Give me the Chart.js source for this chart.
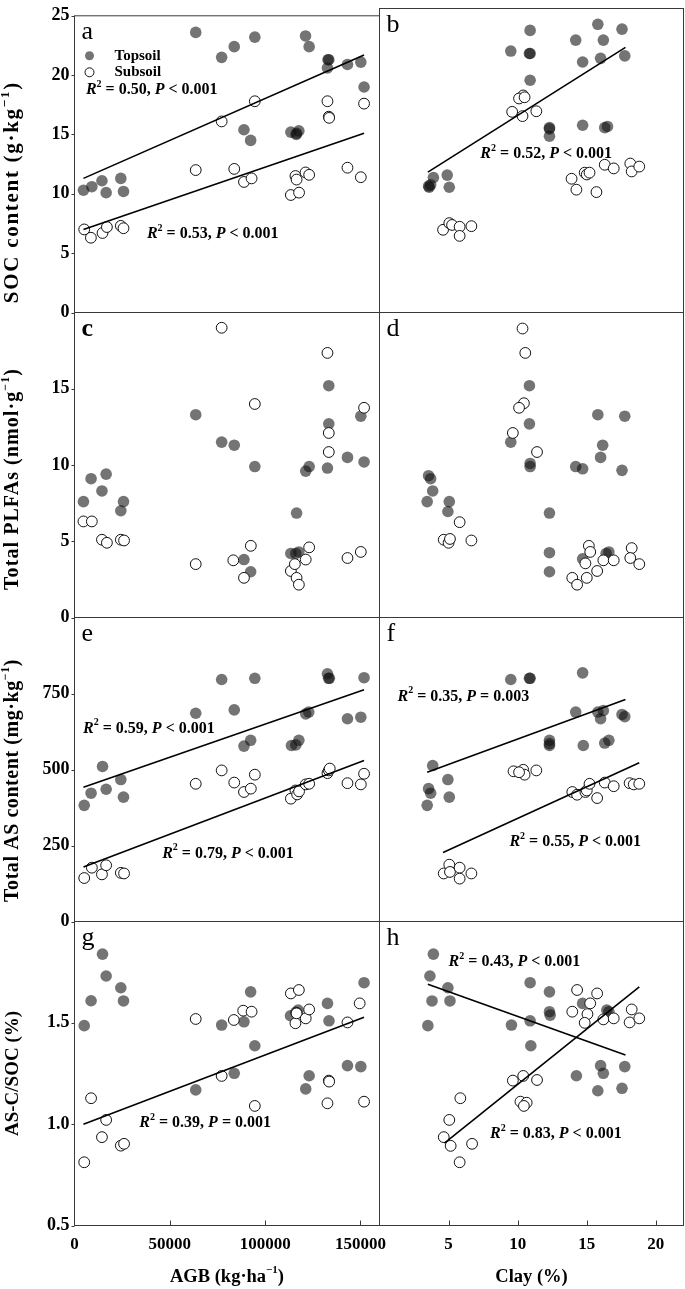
<!DOCTYPE html>
<html>
<head>
<meta charset="utf-8">
<script src="https://cdn.jsdelivr.net/npm/chart.js@4.4.1/dist/chart.umd.min.js"></script>
<style>
  html, body { margin: 0; padding: 0; background: #fff; }
  #wrap { position: relative; width: 685px; height: 1289px; }
  #wrap canvas { position: absolute; left: 0; top: 0; }
</style>
</head>
<body>
<div id="wrap"></div>
<script>
// ---- data: [x, y] pairs ----
// left column x = AGB (kg/ha), right column x = clay (%)
const aTop = [[4700,10.3],[9100,10.6],[14400,11.1],[16600,10.1],[24300,11.3],[25700,10.2],[63600,23.6],[77200,21.5],[83800,22.4],[94600,23.2],[121200,23.3],[123100,22.4],[88900,15.4],[92400,14.5],[113500,15.2],[116300,15.0],[116500,15.1],[117700,15.3],[132700,20.6],[133000,21.3],[133400,21.3],[143200,20.9],[150200,21.1],[151900,19.0]];
const aSub = [[5100,7.0],[8600,6.3],[14700,6.7],[17000,7.2],[24300,7.3],[25700,7.1],[63600,12.0],[77200,16.1],[83800,12.1],[88900,11.0],[92900,11.3],[94600,17.8],[113500,9.9],[115900,11.5],[116500,11.2],[117800,10.1],[121200,11.8],[123100,11.6],[132700,17.8],[133400,16.5],[133600,16.4],[143200,12.2],[150200,11.4],[151900,17.6]];
const aTopFit = [[4700,11.3],[151900,21.7]];
const aSubFit = [[4700,7.0],[151900,15.1]];

const bTop = [[10.9,23.2],[9.5,21.5],[10.85,21.3],[10.9,21.3],[10.9,19.1],[15.8,23.7],[17.55,23.3],[14.2,22.4],[16.2,22.4],[14.7,20.6],[16.0,20.9],[17.75,21.1],[12.3,15.2],[12.3,15.1],[12.3,14.5],[14.7,15.4],[16.3,15.2],[16.5,15.3],[3.9,11.1],[4.9,11.3],[3.55,10.4],[3.7,10.5],[3.6,10.3],[5.05,10.3]];
const bSub = [[10.4,17.85],[10.1,17.6],[10.5,17.7],[9.6,16.5],[10.35,16.15],[11.35,16.55],[13.9,11.0],[14.25,10.1],[14.85,11.5],[15.0,11.35],[15.2,11.5],[15.7,9.9],[16.3,12.15],[16.95,11.85],[18.15,12.25],[18.25,11.6],[18.8,12.0],[4.6,6.8],[5.05,7.35],[5.25,7.2],[5.8,7.05],[5.8,6.3],[6.65,7.1]];
const bTopFit = [[3.5,11.55],[17.8,21.8]];

const cTop = [[4700,7.6],[8700,9.1],[14400,8.3],[16600,9.4],[24300,7.0],[25700,7.6],[63600,13.3],[77200,11.5],[83800,11.3],[94600,9.9],[88900,3.8],[92400,3.0],[113500,4.2],[116100,4.2],[117700,4.3],[116500,6.85],[121300,9.6],[123100,9.9],[132700,9.8],[133400,15.2],[133400,12.7],[143200,10.5],[150200,13.2],[151900,10.2]];
const cSub = [[4700,6.3],[9100,6.3],[14400,5.1],[17000,4.9],[24300,5.1],[26000,5.05],[63600,3.5],[77200,19.0],[83300,3.75],[88900,2.6],[92500,4.7],[94600,14.0],[113500,3.05],[115600,3.5],[116500,2.6],[117700,2.15],[121300,3.8],[123100,4.6],[132700,17.35],[133400,12.1],[133400,10.85],[143200,3.9],[150200,4.3],[151900,13.75]];

const dTop = [[10.85,15.2],[10.85,12.7],[9.5,11.5],[10.9,10.1],[10.9,9.9],[15.8,13.3],[17.75,13.2],[16.15,11.3],[16.0,10.5],[14.2,9.9],[14.7,9.75],[17.55,9.65],[3.55,9.3],[3.7,9.1],[3.85,8.3],[3.45,7.6],[5.05,7.6],[4.95,6.95],[12.3,6.85],[12.3,4.25],[12.3,3.0],[14.7,3.85],[16.4,4.2],[16.6,4.3]];
const dSub = [[10.35,18.95],[10.55,17.35],[10.45,14.05],[10.1,13.75],[9.65,12.1],[11.4,10.85],[5.8,6.25],[4.65,5.1],[5.0,4.9],[5.1,5.15],[6.65,5.05],[15.15,4.7],[15.25,4.3],[14.9,3.55],[16.2,3.75],[16.95,3.75],[15.75,3.05],[15.0,2.6],[13.95,2.6],[14.3,2.15],[18.25,4.55],[18.15,3.9],[18.8,3.5]];

const eTop = [[5100,382],[8700,422],[14700,510],[16600,435],[24300,467],[25700,409],[63600,685],[77200,796],[83800,696],[94600,800],[88900,577],[92400,596],[113800,579],[116100,581],[117700,596],[121300,683],[122900,689],[132700,815],[133300,800],[133700,800],[143200,667],[150200,672],[151900,802]];
const eSub = [[5100,143],[9100,177],[14400,155],[16600,185],[24300,160],[26000,158],[63600,453],[77200,497],[83800,457],[88900,426],[92500,437],[94600,483],[113500,404],[115900,431],[116800,418],[117800,428],[121300,451],[123100,453],[132700,488],[133400,497],[133900,503],[143200,455],[150200,451],[151900,486]];
const eTopFit = [[4700,442],[151900,762]];
const eSubFit = [[4700,179],[151900,530]];

const fTop = [[9.5,796],[10.85,800],[10.9,800],[14.7,818],[14.2,689],[15.8,689],[16.2,694],[16.0,667],[17.55,681],[17.75,674],[12.3,596],[12.3,579],[12.3,585],[14.75,579],[16.3,587],[16.6,596],[3.85,513],[4.95,467],[3.55,437],[3.7,422],[5.05,409],[3.45,382]];
const fSub = [[9.7,494],[10.4,499],[10.5,483],[10.1,491],[11.35,497],[13.95,426],[14.3,417],[14.9,426],[15.0,431],[15.2,453],[15.75,406],[16.3,457],[16.95,445],[18.1,455],[18.4,451],[18.8,453],[4.65,158],[5.05,187],[5.1,163],[5.8,177],[5.8,141],[6.65,158]];
const fTopFit = [[3.45,491],[17.8,730]];
const fSubFit = [[4.6,227],[18.8,522]];

const gTop = [[5100,1.486],[8700,1.609],[14700,1.839],[16600,1.731],[24300,1.673],[25700,1.608],[63600,1.169],[77200,1.489],[83800,1.251],[88900,1.505],[92400,1.653],[94600,1.387],[113300,1.535],[116100,1.552],[117300,1.563],[116700,1.548],[121300,1.174],[123100,1.239],[132700,1.596],[133500,1.51],[143200,1.289],[150200,1.284],[151900,1.698]];
const gSub = [[5100,0.812],[8700,1.128],[14400,0.936],[16600,1.021],[24300,0.894],[26000,0.903],[63600,1.519],[77200,1.238],[83600,1.514],[88500,1.56],[92900,1.555],[94600,1.09],[113500,1.645],[115900,1.498],[117700,1.662],[116500,1.547],[121300,1.522],[123100,1.566],[132700,1.103],[133400,1.215],[133600,1.21],[143200,1.502],[149600,1.596],[151900,1.111]];
const gSubFit = [[4700,1.0],[151900,1.527]];

const hTop = [[3.9,1.839],[3.65,1.731],[4.95,1.673],[3.8,1.608],[5.1,1.608],[3.5,1.486],[10.9,1.698],[12.3,1.653],[12.3,1.555],[12.35,1.538],[10.9,1.51],[9.55,1.489],[10.95,1.387],[14.7,1.596],[16.45,1.563],[16.6,1.555],[16.0,1.289],[16.2,1.251],[17.75,1.284],[14.25,1.239],[15.8,1.165],[17.55,1.177]];
const hSub = [[14.3,1.662],[15.75,1.645],[15.25,1.596],[13.95,1.555],[15.05,1.543],[14.85,1.5],[16.2,1.517],[16.95,1.522],[18.25,1.566],[18.1,1.502],[18.8,1.522],[9.65,1.215],[10.4,1.238],[11.4,1.218],[10.2,1.111],[10.65,1.106],[10.45,1.09],[5.85,1.128],[5.05,1.021],[4.65,0.936],[5.15,0.893],[6.7,0.903],[5.8,0.812]];
const hTopFit = [[3.5,1.69],[17.8,1.341]];
const hSubFit = [[4.7,0.906],[18.8,1.678]];

// axis ranges and tick values
const agbRange = [0, 160000];
const agbTicks = [0, 50000, 100000, 150000];
const clayRange = [0, 22];
const clayTicks = [0, 5, 10, 15, 20];
const rowRanges = [[0, 25], [0, 20], [0, 1000], [0.5, 2.0]];
const rowTicks = [
  [0, 5, 10, 15, 20, 25],
  [0, 5, 10, 15],
  [0, 250, 500, 750],
  [0.5, 1.0, 1.5]
];

// ---- layout ----
const FONT = "'Liberation Serif', 'Times New Roman', serif";
const PAGE_W = 685, PAGE_H = 1289;
const COL_X = [74.5, 379.5, 683.5];
const ROW_Y = [8.5, 312.5, 617.5, 921.5, 1225.5];
const X_AXIS_H = 50;

const sup = t => ({ t: t, sup: true });
const it = t => ({ t: t, italic: true });
const txt = t => ({ t: t });

// y titles: centre offset from row middle, font size, drawn length
const yTitles = [
  { parts: [txt('SOC content (g·kg'), sup('−1'), txt(')')], shift: 28, size: 21, len: 222 },
  { parts: [txt('Total PLFAs (nmol·g'), sup('−1'), txt(')')], shift: 14, size: 20, len: 222 },
  { parts: [txt('Total AS content (mg·kg'), sup('−1'), txt(')')], shift: 11, size: 20, len: 243 },
  { parts: [txt('AS-C/SOC (%)')], shift: 0, size: 19, len: 123 }
];
const xTitles = [
  [txt('AGB (kg·ha'), sup('−1'), txt(')')],
  [txt('Clay (%)')]
];

function fitText(r2, op, p) {
  return [it('R'), sup('2'), txt(' = ' + r2 + ', '), it('P'), txt(' ' + op + ' ' + p)];
}

const panels = [
  { id: 'a', col: 0, row: 0, top: aTop, sub: aSub, fits: [aTopFit, aSubFit], legend: true,
    notes: [{ x: 6000, y: 18.75, parts: fitText('0.50', '<', '0.001') }, { x: 38000, y: 6.6, parts: fitText('0.53', '<', '0.001') }] },
  { id: 'b', col: 1, row: 0, top: bTop, sub: bSub, fits: [bTopFit],
    notes: [{ x: 7.3, y: 13.06, parts: fitText('0.52', '<', '0.001') }] },
  { id: 'c', col: 0, row: 1, top: cTop, sub: cSub, fits: [], bold: true, notes: [] },
  { id: 'd', col: 1, row: 1, top: dTop, sub: dSub, fits: [], notes: [] },
  { id: 'e', col: 0, row: 2, top: eTop, sub: eSub, fits: [eTopFit, eSubFit],
    notes: [{ x: 4500, y: 635, parts: fitText('0.59', '<', '0.001') }, { x: 46000, y: 224, parts: fitText('0.79', '<', '0.001') }] },
  { id: 'f', col: 1, row: 2, top: fTop, sub: fSub, fits: [fTopFit, fSubFit],
    notes: [{ x: 1.3, y: 740, parts: fitText('0.35', '=', '0.003') }, { x: 9.4, y: 261, parts: fitText('0.55', '<', '0.001') }] },
  { id: 'g', col: 0, row: 3, top: gTop, sub: gSub, fits: [gSubFit],
    notes: [{ x: 34000, y: 1.006, parts: fitText('0.39', '=', '0.001') }] },
  { id: 'h', col: 1, row: 3, top: hTop, sub: hSub, fits: [hTopFit, hSubFit],
    notes: [{ x: 5.0, y: 1.80, parts: fitText('0.43', '<', '0.001') }, { x: 8.0, y: 0.952, parts: fitText('0.83', '<', '0.001') }] }
];

const topStyle = { backgroundColor: 'rgba(15,15,15,0.58)', borderColor: 'rgba(0,0,0,0)', borderWidth: 0, pointRadius: 5.8 };
const subStyle = { backgroundColor: '#ffffff', borderColor: '#111111', borderWidth: 1, pointRadius: 5.4 };

// ---- rich text helpers ----
function partFont(p, size) {
  const s = p.sup ? Math.round(size * 0.62) : size;
  return (p.italic ? 'italic ' : '') + 'bold ' + s + 'px ' + FONT;
}
function richWidth(ctx, parts, size) {
  let w = 0;
  parts.forEach(p => { ctx.font = partFont(p, size); w += ctx.measureText(p.t).width; });
  return w;
}
// optional len: spread letters so the whole string spans len px
function drawRich(ctx, parts, x, y, size, align, len) {
  ctx.textBaseline = 'middle';
  ctx.textAlign = 'left';
  ctx.letterSpacing = '0px';
  const n = parts.reduce((s, p) => s + p.t.length, 0);
  let spacing = 0;
  if (len) spacing = Math.max(0, (len - richWidth(ctx, parts, size)) / n);
  const w = richWidth(ctx, parts, size) + spacing * n;
  let cx = align === 'center' ? x - w / 2 : x;
  parts.forEach(p => {
    ctx.font = partFont(p, size);
    ctx.letterSpacing = spacing + 'px';
    ctx.fillText(p.t, cx, p.sup ? y - size * 0.36 : y);
    ctx.letterSpacing = '0px';
    cx += ctx.measureText(p.t).width + spacing * p.t.length;
  });
}

// frame, ticks, letters, labels, legend, axis titles
const decoPlugin = {
  id: 'panelDeco',
  afterDraw(chart, args, opts) {
    const ctx = chart.ctx;
    const { left, right, top, bottom } = chart.chartArea;
    const xs = chart.scales.x, ys = chart.scales.y;
    const panel = opts.panel;
    ctx.save();
    ctx.strokeStyle = '#3a3a3a';
    ctx.lineWidth = 1;
    ctx.strokeRect(left, top, right - left, bottom - top);

    ctx.beginPath();
    if (panel.row === 3) {
      xs.ticks.forEach(t => {
        const px = Math.round(xs.getPixelForValue(t.value)) + 0.5;
        if (t.value > xs.min) { ctx.moveTo(px, bottom); ctx.lineTo(px, bottom - 5); }
      });
    }
    if (panel.col === 0) {
      ys.ticks.forEach(t => {
        const py = Math.round(ys.getPixelForValue(t.value)) + 0.5;
        ctx.moveTo(left, py); ctx.lineTo(left - 3, py);
      });
    }
    ctx.stroke();

    ctx.fillStyle = '#000';
    // panel letter
    ctx.font = (panel.bold ? 'bold ' : '') + '26px ' + FONT;
    ctx.textAlign = 'left';
    ctx.textBaseline = 'alphabetic';
    ctx.fillText(panel.id, left + 7, top + 23);

    // regression labels
    panel.notes.forEach(n => {
      drawRich(ctx, n.parts, xs.getPixelForValue(n.x), ys.getPixelForValue(n.y), 16, 'left');
    });

    // legend
    if (panel.legend) {
      const items = [[topStyle, 'Topsoil'], [subStyle, 'Subsoil']];
      items.forEach(([st, label], i) => {
        const cy = top + 40 + i * 16.5;
        ctx.beginPath();
        ctx.arc(left + 15, cy, 4.5, 0, Math.PI * 2);
        ctx.fillStyle = st.backgroundColor;
        ctx.fill();
        if (st.borderWidth) { ctx.strokeStyle = st.borderColor; ctx.lineWidth = st.borderWidth; ctx.stroke(); }
        ctx.fillStyle = '#000';
        ctx.font = 'bold 15px ' + FONT;
        ctx.textBaseline = 'middle';
        ctx.fillText(label, left + 40, cy);
      });
    }

    // axis titles
    if (panel.col === 0) {
      const yt = yTitles[panel.row];
      ctx.save();
      ctx.translate(13, (top + bottom) / 2 + yt.shift);
      ctx.rotate(-Math.PI / 2);
      drawRich(ctx, yt.parts, 0, 0, yt.size, 'center', yt.len);
      ctx.restore();
    }
    if (panel.row === 3) {
      drawRich(ctx, xTitles[panel.col], (left + right) / 2, 1277, 18.5, 'center');
    }
    ctx.restore();
  }
};

const toPts = arr => arr.map(([x, y]) => ({ x: x, y: y }));

function makeChart(panel) {
  const canvas = document.createElement('canvas');
  canvas.width = PAGE_W;
  canvas.height = PAGE_H;
  document.getElementById('wrap').appendChild(canvas);

  const xr = panel.col === 0 ? agbRange : clayRange;
  const xt = panel.col === 0 ? agbTicks : clayTicks;
  const yr = rowRanges[panel.row];
  const yt = rowTicks[panel.row];
  const isBottom = panel.row === 3;
  const showY = panel.col === 0;

  const datasets = [
    Object.assign({ label: 'Topsoil', data: toPts(panel.top), order: 2 }, topStyle),
    Object.assign({ label: 'Subsoil', data: toPts(panel.sub), order: 1 }, subStyle)
  ];
  panel.fits.forEach(f => datasets.push({
    label: 'fit', data: toPts(f), showLine: true, borderColor: '#000', borderWidth: 1.6,
    pointRadius: 0, fill: false, order: 0
  }));

  new Chart(canvas, {
    type: 'scatter',
    data: { datasets: datasets },
    options: {
      responsive: false,
      animation: false,
      events: [],
      devicePixelRatio: 1,
      layout: {
        autoPadding: false,
        padding: {
          left: showY ? 0 : COL_X[1],
          right: PAGE_W - COL_X[panel.col + 1],
          top: ROW_Y[panel.row],
          bottom: PAGE_H - ROW_Y[panel.row + 1] - (isBottom ? X_AXIS_H : 0)
        }
      },
      scales: {
        x: {
          type: 'linear', min: xr[0], max: xr[1], display: isBottom,
          grid: { display: false, drawTicks: false }, border: { display: false },
          afterBuildTicks(s) { s.ticks = xt.map(v => ({ value: v })); },
          ticks: {
            padding: 9, color: '#000', font: { family: FONT, size: 17, weight: 'bold' },
            maxRotation: 0, autoSkip: false,
            callback: v => (panel.col === 1 && v === 0) ? '' : String(v)
          },
          afterFit(s) { if (isBottom) s.height = X_AXIS_H; }
        },
        y: {
          type: 'linear', min: yr[0], max: yr[1], display: showY,
          grid: { display: false, drawTicks: false }, border: { display: false },
          afterBuildTicks(s) { s.ticks = yt.map(v => ({ value: v })); },
          ticks: {
            padding: 5, color: '#000', font: { family: FONT, size: 18, weight: 'bold' }, autoSkip: false,
            callback: v => panel.row === 3 ? v.toFixed(1) : String(v)
          },
          afterFit(s) { if (showY) s.width = COL_X[0]; }
        }
      },
      plugins: {
        legend: { display: false },
        tooltip: { enabled: false },
        panelDeco: { panel: panel }
      }
    },
    plugins: [decoPlugin]
  });
}

panels.forEach(makeChart);
</script>
</body>
</html>
